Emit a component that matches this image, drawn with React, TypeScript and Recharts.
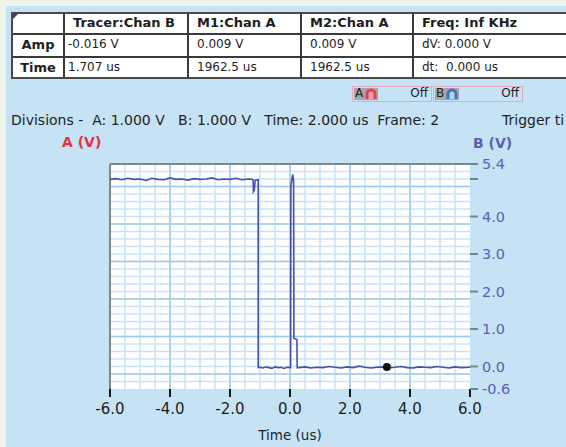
import { LineChart, Line, XAxis, YAxis, CartesianGrid, ReferenceLine, ReferenceDot, Label } from 'recharts';

// Channel B trace (time in us, volts)
const highTimes = [-6.0, -5.8, -5.6, -5.4, -5.2, -5.0, -4.8, -4.6, -4.4, -4.2, -4.0, -3.8, -3.6, -3.4, -3.2, -3.0, -2.8, -2.6, -2.4, -2.2, -2.0, -1.8, -1.6, -1.4, -1.26];
const highVolts = [4.99, 5.01, 4.98, 5.02, 4.99, 5.0, 4.96, 5.02, 4.99, 4.98, 5.03, 4.99, 5.0, 4.97, 5.01, 4.99, 5.0, 5.03, 4.98, 5.0, 4.99, 5.02, 4.98, 5.0, 4.99];

const fallTimes = [-1.23, -1.22, -1.19, -1.16, -1.06, -1.06];
const fallVolts = [4.97, 4.66, 4.7, 4.97, 4.98, -0.03];

const lowTimes = [-1.0, -0.9, -0.8, -0.7, -0.6, -0.5, -0.4, -0.3, -0.2, -0.1, 0.02];
const lowVolts = [-0.02, -0.04, -0.01, -0.03, -0.05, -0.01, -0.03, -0.02, -0.05, -0.02, -0.03];

const spikeTimes = [0.03, 0.09, 0.12, 0.13, 0.23, 0.24];
const spikeVolts = [4.82, 5.12, 4.95, 0.75, 0.72, -0.03];

const tailTimes = [0.3, 0.5, 0.7, 0.9, 1.1, 1.3, 1.5, 1.7, 1.9, 2.1, 2.3, 2.5, 2.7, 2.9, 3.1, 3.3, 3.5, 3.7, 3.9, 4.1, 4.3, 4.5, 4.7, 4.9, 5.1, 5.3, 5.5, 5.7, 6.0];
const tailVolts = [-0.03, -0.01, -0.04, -0.02, -0.03, 0.0, -0.02, -0.04, -0.01, -0.03, 0.01, -0.02, -0.04, -0.02, -0.01, -0.03, -0.02, 0.0, -0.03, -0.04, -0.01, -0.02, -0.03, 0.0, -0.02, -0.04, -0.01, -0.03, -0.02];

const tracerTime = 3.23;
const tracerVolt = -0.016;

const xTicks = [-6, -4, -2, 0, 2, 4, 6];
const bTicks = [-0.6, 0, 1, 2, 3, 4, 5, 5.4];

const tableHead = ['', 'Tracer:Chan B', 'M1:Chan A', 'M2:Chan A', 'Freq: Inf KHz'];
const ampRow = ['Amp', '-0.016 V', '0.009 V', '0.009 V', 'dV: 0.000 V'];
const timeRow = ['Time', '1.707 us', '1962.5 us', '1962.5 us', 'dt:  0.000 us'];

const traceData = [
  ...highTimes.map((t, i) => ({ t, b: highVolts[i] })),
  ...fallTimes.map((t, i) => ({ t, b: fallVolts[i] })),
  ...lowTimes.map((t, i) => ({ t, b: lowVolts[i] })),
  ...spikeTimes.map((t, i) => ({ t, b: spikeVolts[i] })),
  ...tailTimes.map((t, i) => ({ t, b: tailVolts[i] })),
];

// scope graticule: fine lines every 0.2 V / 0.5 us
const minorVolts = Array.from({ length: 29 }, (_, i) => Math.round((-0.4 + i * 0.2) * 10) / 10);
const majorVolts = [-0.2, 0.8, 1.8, 2.8, 3.8, 4.8];
const minorTimes = Array.from({ length: 23 }, (_, i) => -5.5 + i * 0.5);
const majorTimes = [-4, -2, 0, 2, 4];

const FONT = '"DejaVu Sans", Verdana, sans-serif';
const colX = [11, 63, 187, 300, 412, 600];
const rowY = [12, 33, 56, 79];

function ReadoutTable() {
  const rows = [tableHead, ampRow, timeRow];
  return (
    <div style={{ position: 'absolute', left: colX[0], top: rowY[0], width: 560, height: rowY[3] - rowY[0], background: '#fff', border: '2px solid #4a4a4a', boxSizing: 'border-box' }}>
      <div style={{ position: 'absolute', left: 0, top: 0, width: 0, height: 0, borderTop: '5px solid #2d3f8c', borderRight: '5px solid transparent' }} />
      {colX.slice(1, 5).map((x) => (
        <div key={'c' + x} style={{ position: 'absolute', left: x - colX[0] - 2, top: 0, width: 2, height: '100%', background: '#3a3a3a' }} />
      ))}
      {rowY.slice(1, 3).map((y) => (
        <div key={'r' + y} style={{ position: 'absolute', left: 0, top: y - rowY[0] - 2, width: '100%', height: 2, background: '#3a3a3a' }} />
      ))}
      {rows.map((row, r) =>
        row.map((txt, c) => {
          const bold = r === 0 || c === 0;
          const top = rowY[r] - rowY[0] - 2;
          const h = rowY[r + 1] - rowY[r];
          const left = c === 0 ? 0 : colX[c] - colX[0] + (r > 0 && c === 1 ? 3 : 8);
          return (
            <div
              key={r + '-' + c}
              style={{
                position: 'absolute',
                left,
                top,
                width: c === 0 ? colX[1] - colX[0] - 2 : undefined,
                height: h,
                lineHeight: h + 'px',
                textAlign: c === 0 ? 'center' : 'left',
                fontWeight: bold ? 'bold' : 'normal',
                fontSize: bold ? 13 : 12,
                whiteSpace: 'pre',
                color: '#1e1e1e',
              }}
            >
              {txt}
            </div>
          );
        })
      )}
    </div>
  );
}

function ChannelToggle({ left, width, name, color, low }: { left: number; width: number; name: string; color: string; low: string }) {
  return (
    <div style={{ position: 'absolute', left, top: 86, width, height: 16, border: '1px solid #e2a8c4', boxSizing: 'border-box' }}>
      <div style={{ position: 'absolute', left: 1, top: 1, width: 24, height: 12, background: '#a7a7a7' }}>
        <span style={{ position: 'absolute', left: 1, top: -2, fontSize: 12, color: '#222' }}>{name}</span>
        <svg width={12} height={12} style={{ position: 'absolute', left: 11, top: 0 }}>
          <path d="M2 11 L2 6 A4 4 0 0 1 10 6 L10 11" fill={low} stroke={color} strokeWidth={3} />
        </svg>
      </div>
      <span style={{ position: 'absolute', right: 3, top: -1, fontSize: 12, color: '#222' }}>Off</span>
    </div>
  );
}

export default function App() {
  return (
    <div style={{ position: 'absolute', left: 0, top: 0, width: 566, height: 447, overflow: 'hidden', background: '#eef4e9', fontFamily: FONT }}>
      <div style={{ position: 'absolute', left: 6, top: 6, width: 560, height: 441, background: '#c6e3f6' }} />
      <ReadoutTable />
      <ChannelToggle left={352} width={80} name="A" color="#e8404a" low="#f4a0a8" />
      <ChannelToggle left={433} width={90} name="B" color="#4a6fc0" low="#9fe0e8" />

      <div style={{ position: 'absolute', left: 11, top: 112, fontSize: 14, color: '#222', whiteSpace: 'pre' }}>
        {'Divisions -  A: 1.000 V   B: 1.000 V   Time: 2.000 us  Frame: 2'}
      </div>
      <div style={{ position: 'absolute', left: 502, top: 112, fontSize: 14, color: '#222', whiteSpace: 'pre' }}>Trigger ti</div>
      <div style={{ position: 'absolute', left: 62, top: 134, fontSize: 14, fontWeight: 'bold', color: '#e8323c' }}>A (V)</div>
      <div style={{ position: 'absolute', left: 473, top: 135, fontSize: 14, fontWeight: 'bold', color: '#5860b0' }}>B (V)</div>

      <div style={{ position: 'absolute', left: 0, top: 0 }}>
        <LineChart width={566} height={447} data={traceData} margin={{ top: 164, right: 0, bottom: 0, left: 110 }}>
          <CartesianGrid horizontalValues={minorVolts} verticalValues={minorTimes} stroke="#c9e3f5" strokeWidth={1.5} fill="#fff" />
          <CartesianGrid horizontalValues={majorVolts} verticalValues={majorTimes} stroke="#9fcbec" strokeWidth={1.5} />
          <XAxis
            dataKey="t"
            type="number"
            domain={[-6, 6]}
            ticks={xTicks}
            interval={0}
            height={58}
            axisLine={false}
            tickSize={8}
            tickMargin={6}
            tickLine={{ stroke: '#1a1a1a', strokeWidth: 2 }}
            tick={{ fontSize: 15, fill: '#1e1e1e', fontFamily: FONT }}
            tickFormatter={(v: number) => v.toFixed(1)}
          >
            <Label value="Time (us)" position="insideBottom" offset={7} style={{ fontSize: 13.5, fill: '#1e1e1e', fontFamily: FONT }} />
          </XAxis>
          <YAxis
            orientation="right"
            type="number"
            domain={[-0.6, 5.4]}
            ticks={bTicks}
            interval={0}
            width={96}
            axisLine={false}
            tickSize={8}
            tickMargin={4}
            tickLine={{ stroke: '#6b8c84', strokeWidth: 2 }}
            tick={{ fontSize: 14.5, fill: '#5a5fae', fontFamily: FONT, textAnchor: 'start' }}
            tickFormatter={(v: number) => (v === 5 ? '' : v.toFixed(1))}
          />
          <ReferenceLine x={-6} stroke="#858585" strokeWidth={2} />
          <ReferenceLine y={5.4} stroke="#858585" strokeWidth={2} />
          <Line type="linear" dataKey="b" stroke="#4752a6" strokeWidth={1.6} dot={false} isAnimationActive={false} />
          <ReferenceDot x={tracerTime} y={tracerVolt} r={4} fill="#111" stroke="none" />
        </LineChart>
      </div>
    </div>
  );
}
